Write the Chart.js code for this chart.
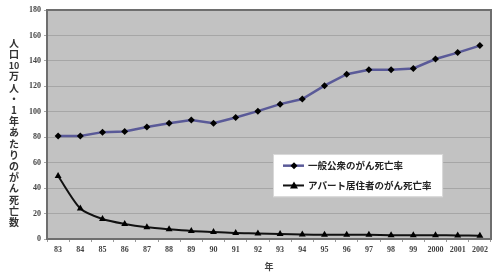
<!DOCTYPE html>
<html>
<head>
<meta charset="utf-8">
<script src="https://cdn.jsdelivr.net/npm/chart.js@4/dist/chart.umd.min.js"></script>
<style>
html,body{margin:0;padding:0;background:#fff;}
#wrap{position:relative;width:501px;height:277px;}
</style>
</head>
<body>
<div id="wrap"><canvas id="c" width="501" height="277"></canvas></div>
<script>
const categories = ['83','84','85','86','87','88','89','90','91','92','93','94','95','96','97','98','99','2000','2001','2002'];
const generalRate = [81, 81, 84, 84.5, 88, 91, 93.5, 91, 95.5, 100.5, 106, 110, 120.5, 129.5, 133, 133, 134, 141.5, 146.5, 152];
const apartmentRate = [49.5, 24, 15.7, 11.8, 9.2, 7.6, 6.3, 5.5, 4.7, 4.4, 3.9, 3.5, 3.3, 3.3, 3.3, 3.0, 3.0, 3.0, 2.8, 2.5];
const seriesNames = ['一般公衆のがん死亡率', 'アパート居住者のがん死亡率'];
const yTicks = [0, 20, 40, 60, 80, 100, 120, 140, 160, 180];
const yTitleParts = ['人','口','10','万','人','・','1','年','あ','た','り','の','が','ん','死','亡','数'];
const xTitle = '年';

const cjk = '"Noto Sans CJK JP", "Noto Sans CJK SC", sans-serif';
const numFont = '"Liberation Serif", "DejaVu Serif", serif';

const plotBg = {
  id: 'plotBg',
  beforeDraw(chart) {
    const {ctx, chartArea: a} = chart;
    ctx.save();
    ctx.fillStyle = '#c2c2c2';
    ctx.fillRect(a.left, a.top, a.right - a.left, a.bottom - a.top);
    ctx.restore();
  },
  afterDatasetsDraw(chart) {
    const {ctx, chartArea: a} = chart;
    ctx.save();
    ctx.strokeStyle = '#6e6e6e';
    ctx.lineWidth = 2;
    ctx.strokeRect(a.left, a.top, a.right - a.left, a.bottom - a.top);
    ctx.restore();
  }
};

const yTitlePlugin = {
  id: 'yTitle',
  afterDraw(chart) {
    const {ctx} = chart;
    ctx.save();
    ctx.fillStyle = '#333';
    ctx.font = 'bold 10px ' + cjk;
    ctx.textAlign = 'center';
    ctx.textBaseline = 'middle';
    let y = 43;
    yTitleParts.forEach(p => {
      if (p === '10') {
        ctx.font = 'bold 9px ' + cjk;
      } else {
        ctx.font = 'bold 10px ' + cjk;
      }
      ctx.fillText(p, 14, y);
      y += 11.2;
    });
    ctx.restore();
  }
};

const legendPlugin = {
  id: 'boxLegend',
  afterDraw(chart) {
    const {ctx, chartArea: a} = chart;
    const w = a.right - a.left, h = a.bottom - a.top;
    const x0 = a.left + 0.509 * w, x1 = a.left + 0.892 * w;
    const y0 = a.top + 0.629 * h, y1 = a.top + 0.817 * h;
    ctx.save();
    ctx.fillStyle = '#ffffff';
    ctx.fillRect(x0, y0, x1 - x0, y1 - y0);
    ctx.strokeStyle = '#d8d8d8';
    ctx.lineWidth = 1;
    ctx.strokeRect(x0 + 0.5, y0 + 0.5, x1 - x0 - 1, y1 - y0 - 1);
    const rows = [y0 + 0.27 * (y1 - y0), y0 + 0.73 * (y1 - y0)];
    chart.data.datasets.forEach((ds, i) => {
      const ry = rows[i];
      ctx.strokeStyle = ds.borderColor;
      ctx.lineWidth = ds.borderWidth;
      ctx.beginPath();
      ctx.moveTo(x0 + 10, ry);
      ctx.lineTo(x0 + 31, ry);
      ctx.stroke();
      ctx.fillStyle = '#000';
      ctx.beginPath();
      const cx = x0 + 21;
      if (ds.pointStyle === 'rectRot') {
        ctx.moveTo(cx, ry - 3.5); ctx.lineTo(cx + 3.5, ry); ctx.lineTo(cx, ry + 3.5); ctx.lineTo(cx - 3.5, ry);
      } else {
        ctx.moveTo(cx, ry - 4); ctx.lineTo(cx + 4, ry + 3); ctx.lineTo(cx - 4, ry + 3);
      }
      ctx.closePath();
      ctx.fill();
      ctx.fillStyle = '#222';
      ctx.font = 'bold 9.5px ' + cjk;
      ctx.textAlign = 'left';
      ctx.textBaseline = 'middle';
      ctx.fillText(ds.label, x0 + 35, ry);
    });
    ctx.restore();
  }
};

new Chart(document.getElementById('c'), {
  type: 'line',
  data: {
    labels: categories,
    datasets: [
      {
        label: seriesNames[0],
        data: generalRate,
        borderColor: '#5a5a98',
        borderWidth: 2.5,
        pointStyle: 'rectRot',
        pointRadius: 3.5,
        pointBackgroundColor: '#000',
        pointBorderColor: '#000',
        pointBorderWidth: 0,
        tension: 0
      },
      {
        label: seriesNames[1],
        data: apartmentRate,
        borderColor: '#111',
        borderWidth: 2,
        pointStyle: 'triangle',
        pointRadius: 4,
        pointBackgroundColor: '#000',
        pointBorderColor: '#000',
        pointBorderWidth: 0,
        tension: 0.25
      }
    ]
  },
  options: {
    responsive: false,
    animation: false,
    devicePixelRatio: 1,
    layout: {padding: {left: 0, right: 10, top: 10, bottom: 0}},
    plugins: {legend: {display: false}, tooltip: {enabled: false}},
    scales: {
      x: {
        offset: true,
        grid: {display: true, offset: true, drawOnChartArea: false, drawTicks: true, tickLength: 3, color: '#9a9a9a'},
        border: {display: false},
        ticks: {font: {family: numFont, size: 8, weight: 'bold'}, color: '#444', padding: 3, maxRotation: 0, autoSkip: false},
        title: {display: true, text: xTitle, font: {family: cjk, size: 9, weight: 'bold'}, color: '#444', padding: {top: 0, bottom: 5}},
        afterFit(s) { s.height = 38; }
      },
      y: {
        min: 0, max: 180,
        afterBuildTicks(s) { s.ticks = yTicks.map(v => ({value: v})); },
        grid: {color: '#a6a6a6', lineWidth: 1, drawTicks: true, tickLength: 3},
        border: {display: false},
        ticks: {font: {family: numFont, size: 8, weight: 'bold'}, color: '#444', padding: 3},
        afterFit(s) { s.width = 47; }
      }
    }
  },
  plugins: [plotBg, yTitlePlugin, legendPlugin]
});
</script>
</body>
</html>
